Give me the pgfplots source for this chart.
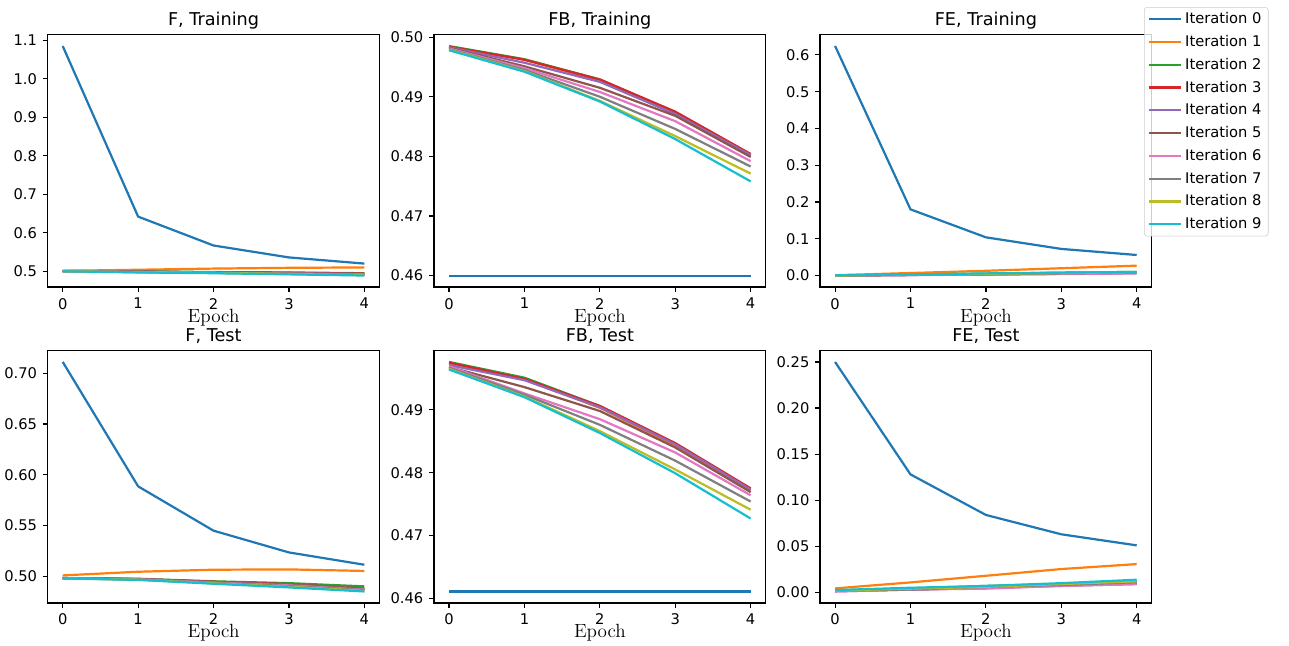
\documentclass[border=0pt]{standalone}
\usepackage{fontspec}
\setsansfont{DejaVu Sans}
\renewcommand{\familydefault}{\sfdefault}
\usepackage{pgfplots}
\usepackage{pgfplotstable}
\pgfplotsset{compat=1.18}

% matplotlib tab10
\definecolor{c0}{HTML}{1F77B4}
\definecolor{c1}{HTML}{FF7F0E}
\definecolor{c2}{HTML}{2CA02C}
\definecolor{c3}{HTML}{D62728}
\definecolor{c4}{HTML}{9467BD}
\definecolor{c5}{HTML}{8C564B}
\definecolor{c6}{HTML}{E377C2}
\definecolor{c7}{HTML}{7F7F7F}
\definecolor{c8}{HTML}{BCBD22}
\definecolor{c9}{HTML}{17BECF}

\pgfplotstableread{
epoch i0 i1 i2 i3 i4 i5 i6 i7 i8 i9
0 1.085 0.501 0.501 0.501 0.501 0.500 0.500 0.500 0.500 0.500
1 0.642 0.504 0.500 0.499 0.499 0.499 0.498 0.498 0.498 0.497
2 0.567 0.507 0.498 0.497 0.497 0.497 0.496 0.496 0.496 0.495
3 0.536 0.509 0.497 0.496 0.495 0.495 0.494 0.494 0.493 0.492
4 0.520 0.510 0.495 0.494 0.493 0.493 0.492 0.491 0.490 0.489
}\ftrain

\pgfplotstableread{
epoch i0 i1 i2 i3 i4 i5 i6 i7 i8 i9
0 0.4600 0.4984 0.4985 0.4984 0.4983 0.4982 0.4981 0.4980 0.4979 0.4978
1 0.4600 0.4962 0.4963 0.4962 0.4957 0.4951 0.4948 0.4945 0.4943 0.4942
2 0.4600 0.4927 0.4929 0.4929 0.4925 0.4915 0.4908 0.4900 0.4893 0.4892
3 0.4600 0.4872 0.4874 0.4875 0.4871 0.4868 0.4859 0.4846 0.4834 0.4829
4 0.4600 0.4800 0.4803 0.4804 0.4802 0.4799 0.4792 0.4783 0.4771 0.4758
}\fbtrain

\pgfplotstableread{
epoch i0 i1 i2 i3 i4 i5 i6 i7 i8 i9
0 0.624 0.001 0.000 0.000 0.000 0.000 0.000 0.000 0.000 0.001
1 0.180 0.007 0.003 0.002 0.002 0.002 0.001 0.002 0.003 0.003
2 0.104 0.013 0.005 0.004 0.003 0.003 0.003 0.004 0.005 0.006
3 0.0725 0.020 0.008 0.006 0.005 0.005 0.004 0.006 0.007 0.008
4 0.056 0.027 0.010 0.008 0.007 0.007 0.006 0.008 0.009 0.010
}\fetrain

\pgfplotstableread{
epoch i0 i1 i2 i3 i4 i5 i6 i7 i8 i9
0 0.711 0.501 0.4984 0.4984 0.4983 0.4983 0.4982 0.4982 0.4981 0.4980
1 0.5886 0.5046 0.4977 0.4975 0.4973 0.4973 0.4971 0.4970 0.4968 0.4966
2 0.545 0.5066 0.4952 0.4948 0.4945 0.4945 0.4940 0.4937 0.4932 0.4928
3 0.5236 0.5069 0.4934 0.4925 0.4920 0.4918 0.4912 0.4905 0.4898 0.4892
4 0.5115 0.5054 0.4902 0.4880 0.4878 0.4879 0.4870 0.4865 0.4858 0.4852
}\ftest

\pgfplotstableread{
epoch i0 i1 i2 i3 i4 i5 i6 i7 i8 i9
0 0.4611 0.4973 0.4976 0.4975 0.4971 0.4968 0.4969 0.4967 0.4965 0.4964
1 0.4611 0.4948 0.4951 0.4949 0.4947 0.4936 0.4926 0.4924 0.4921 0.4920
2 0.4611 0.4903 0.4906 0.4906 0.4904 0.4898 0.4885 0.4876 0.4866 0.4863
3 0.4611 0.4842 0.4846 0.4847 0.4845 0.4840 0.4832 0.4819 0.4805 0.4799
4 0.4611 0.4772 0.4774 0.4775 0.4773 0.4769 0.4764 0.4754 0.4741 0.4727
}\fbtest

\pgfplotstableread{
epoch i0 i1 i2 i3 i4 i5 i6 i7 i8 i9
0 0.250 0.0043 0.002 0.002 0.001 0.002 0.001 0.002 0.002 0.0025
1 0.128 0.0108 0.004 0.003 0.003 0.003 0.003 0.003 0.004 0.005
2 0.084 0.018 0.007 0.005 0.005 0.005 0.004 0.006 0.006 0.007
3 0.063 0.0253 0.009 0.008 0.007 0.008 0.007 0.008 0.009 0.010
4 0.051 0.0307 0.012 0.010 0.009 0.010 0.009 0.011 0.012 0.0137
}\fetest

\newcommand{\iterplots}[1]{%
  \pgfplotsinvokeforeach{0,...,9}{\addplot table[x=epoch,y=i##1]{#1};}}

\pgfplotsset{
  panel/.style={
    scale only axis, width=225.6pt, height=171.7pt, anchor=south west,
    xmin=-0.2, xmax=4.2, xtick={0,1,2,3,4},
    tick align=outside, tick pos=left, major tick length=3.5pt,
    tick style={black, line width=0.8pt},
    axis line style={line width=0.8pt},
    ticklabel style={font=\fontsize{10}{12}\selectfont},
    xticklabel shift=0.5pt, yticklabel shift=0.2pt,
    /pgf/number format/assume math mode=true,
    yticklabel style={/pgf/number format/.cd, fixed, fixed zerofill, precision=#1},
    title style={at={(0.5,1)}, anchor=base, yshift=0pt,
      font=\fontsize{12}{14}\selectfont},
    xlabel={Epoch},
    xlabel style={at={(axis description cs:0.5,0)}, anchor=base, yshift=-23.8pt,
      font=\rmfamily\fontsize{13}{15}\selectfont},
    cycle list={{c0},{c1},{c2},{c3},{c4},{c5},{c6},{c7},{c8},{c9}},
    every axis plot/.append style={line width=1.5pt, line join=round, no markers},
  },
}

\begin{document}
\begin{tikzpicture}
\useasboundingbox (0,0) rectangle (876.5pt,-438.6pt);

% row 1
\begin{axis}[panel=1, at={(32.4pt,-195.2pt)}, title={F, Training},
  ymin=0.459, ymax=1.115, ytick={0.5,0.6,0.7,0.8,0.9,1.0,1.1}]
\iterplots{\ftrain}
\end{axis}

\begin{axis}[panel=2, at={(295.1pt,-195.2pt)}, title={FB, Training},
  ymin=0.45808, ymax=0.50043, ytick={0.46,0.47,0.48,0.49,0.50}]
\iterplots{\fbtrain}
\end{axis}

\begin{axis}[panel=1, at={(557.6pt,-195.2pt)}, title={FE, Training},
  ymin=-0.0312, ymax=0.6552, ytick={0,0.1,0.2,0.3,0.4,0.5,0.6},
  legend style={at={(0.9765,1.109)}, anchor=north west,
    draw=black!20, rounded corners=2pt, fill=white, fill opacity=0.8,
    draw opacity=1, text opacity=1, font=\fontsize{10}{12}\selectfont,
    inner xsep=2.5pt, inner ysep=1.5pt, row sep=2.4pt,
    /tikz/every even column/.append style={column sep=11pt}},
  legend cell align=left,
  legend image code/.code={\draw[#1] (0pt,0pt) -- (21.8pt,0pt);}]
\iterplots{\fetrain}
\legend{Iteration 0,Iteration 1,Iteration 2,Iteration 3,Iteration 4,
  Iteration 5,Iteration 6,Iteration 7,Iteration 8,Iteration 9}
\end{axis}

% row 2
\begin{axis}[panel=2, at={(32.4pt,-410.0pt)}, title={F, Test},
  ymin=0.4739, ymax=0.7223, ytick={0.50,0.55,0.60,0.65,0.70}]
\iterplots{\ftest}
\end{axis}

\begin{axis}[panel=2, at={(295.1pt,-410.0pt)}, title={FB, Test},
  ymin=0.45928, ymax=0.49943, ytick={0.46,0.47,0.48,0.49}]
\iterplots{\fbtest}
\end{axis}

\begin{axis}[panel=2, at={(557.6pt,-410.0pt)}, title={FE, Test},
  ymin=-0.0115, ymax=0.2625, ytick={0,0.05,0.10,0.15,0.20,0.25}]
\iterplots{\fetest}
\end{axis}
\end{tikzpicture}
\end{document}
